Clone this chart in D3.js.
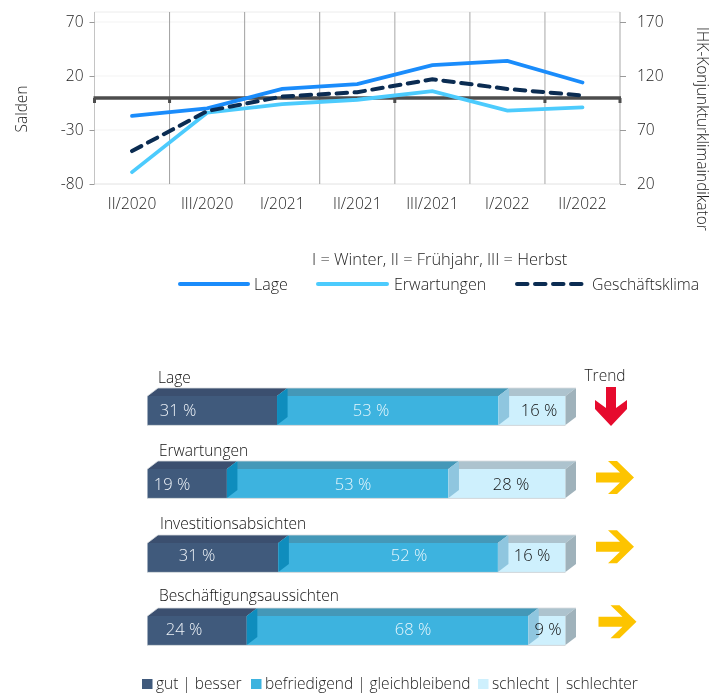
<!DOCTYPE html>
<html><head><meta charset="utf-8">
<script src="https://cdn.jsdelivr.net/npm/d3@7/dist/d3.min.js"></script>
<style>html,body{margin:0;padding:0;background:#fff}svg{display:block;filter:blur(0.35px)}text{font-family:"Open Sans",sans-serif;font-weight:300}</style>
</head><body><svg id="c" width="723" height="693"></svg>
<script>
// ---- data ----
const periods = ["II/2020","III/2020","I/2021","II/2021","III/2021","I/2022","II/2022"];
const lage = [-17,-10,8,12.5,30,34,14];
const erwartungen = [-69,-14,-6,-2,6,-12,-9];
const klima = [50.5,87.5,101,105,117,108,102];
const leftTicks = [-80,-30,20,70];
const rightTicks = [20,70,120,170];
const barNames = ["Lage","Erwartungen","Investitionsabsichten","Beschäftigungsaussichten"];
const gut = [31,19,31,24];
const befriedigend = [53,53,52,68];
const schlecht = [16,28,16,9];
const trend = ["down","right","right","right"];
const legendTop = ["Lage","Erwartungen","Geschäftsklima"];
const legendBottom = ["gut | besser","befriedigend | gleichbleibend","schlecht | schlechter"];

// ---- layout ----
const svg = d3.select("#c");
const ink="#1c1c1c";
const ff='"Open Sans",sans-serif';
const L=94.5,R=620,B=184,T=12,T70=22;
const x = d3.scaleBand().domain(periods).range([L,R]);
const y = d3.scaleLinear().domain([-80,70]).range([B,T70]);
const yR = d3.scaleLinear().domain([20,170]).range([B,T70]);
const fs=15.5;

// gridlines
const g = svg.append("g");
leftTicks.forEach(t=>g.append("line").attr("x1",L).attr("x2",R).attr("y1",y(t)).attr("y2",y(t)).attr("stroke",t===-80?"#e2e2e2":"#f3f3f3").attr("stroke-width",1));
g.append("line").attr("x1",L).attr("x2",R).attr("y1",T).attr("y2",T).attr("stroke","#ececec");
const edges = periods.map(p=>x(p)).concat([R]);
edges.forEach((e,i)=>g.append("line").attr("x1",e).attr("x2",e).attr("y1",T).attr("y2",B)
  .attr("stroke",i===0?"#c4c4c4":(i<4?"#a0a0a0":"#c0c0c0")).attr("stroke-width",i<4?1:1.4));

// axes
const axL = svg.append("g").attr("transform",`translate(${L},0)`).call(d3.axisLeft(y).tickValues(leftTicks).tickSize(5).tickPadding(6).tickFormat(d=>d<0?"-"+Math.abs(d):d));
const axR = svg.append("g").attr("transform",`translate(${R},0)`).call(d3.axisRight(yR).tickValues(rightTicks).tickSize(6).tickPadding(11));
[axL,axR].forEach(a=>{a.select(".domain").remove();a.selectAll("line").attr("stroke","#9a9a9a");
  a.selectAll("text").attr("fill",ink).style("font-size","15.5px").style("font-family",ff).style("font-weight",300);});
const axB = svg.append("g").attr("transform",`translate(0,${B})`).call(d3.axisBottom(x).tickSize(0).tickPadding(14));
axB.select(".domain").remove();
axB.selectAll("text").attr("fill",ink).style("font-size",fs+"px").style("font-family",ff).style("font-weight",300);

// zero line
const y0=y(0)+0.4;
[0,1,4,6,7].forEach(i=>svg.append("rect").attr("x",edges[i]-1.5).attr("y",y0).attr("width",3).attr("height",5).attr("fill","#4d4d4d"));
svg.append("line").attr("x1",L-1).attr("x2",R+1).attr("y1",y0).attr("y2",y0).attr("stroke","#4d4d4d").attr("stroke-width",3.6);

// lines
const cx = p=>x(p)+x.bandwidth()/2;
const path = (vals,sc)=>d3.line().x((d,i)=>cx(periods[i])).y(d=>sc(d))(vals);
const col={lage:"#1a8cfb",erw:"#4ccbfd",kl:"#0b2c52"};
svg.append("path").attr("d",path(lage,y)).attr("fill","none").attr("stroke",col.lage).attr("stroke-width",3.8).attr("stroke-linecap","round");
svg.append("path").attr("d",path(erwartungen,y)).attr("fill","none").attr("stroke",col.erw).attr("stroke-width",3.8).attr("stroke-linecap","round");
svg.append("path").attr("d",path(klima,yR)).attr("fill","none").attr("stroke",col.kl).attr("stroke-width",4).attr("stroke-linecap","round").attr("stroke-dasharray","10.5 7.5");

const txt=(s,xx,yy,size,fill,anchor)=>svg.append("text").attr("x",xx).attr("y",yy).attr("font-size",size).attr("fill",fill||ink).attr("text-anchor",anchor||"start").text(s);
txt("Salden",0,0,fs).attr("transform","translate(27,109) rotate(-90)").attr("text-anchor","middle");
txt("IHK-Konjunkturklimaindikator",0,0,fs).attr("transform","translate(697,129) rotate(90)").attr("text-anchor","middle");
txt("I = Winter, II = Frühjahr, III = Herbst",312,264.5,16.4);

// top legend
const lgX=[[180,248,254],[318,387,394],[517,586,592]];
const lgSt=[[col.lage,null],[col.erw,null],[col.kl,"10.5 7.5"]];
legendTop.forEach((s,i)=>{
  svg.append("line").attr("x1",lgX[i][0]).attr("x2",lgX[i][1]).attr("y1",284).attr("y2",284).attr("stroke",lgSt[i][0]).attr("stroke-width",4).attr("stroke-linecap","round").attr("stroke-dasharray",lgSt[i][1]);
  txt(s,lgX[i][2],289.5,i===2?15.8:16);
});

// stacked 3D bars
const frontTop=[396,469,543,616], frontH=29, dx=10.5, dy=8;
const nameX=[158,159,160,159], nameY=[383,456,529,601];
const pctX=[[178,371,539],[172,353,511],[197,409,532],[184,413,548]];
const pctY=[416,490,561,635];
const colors=[{f:"#405a7c",t:"#3b4f6f",s:"#0f8dbd",lbl:"#eef3f8"},{f:"#3db3df",t:"#4498b8",s:"#8fc6df",lbl:"#e6f6fc"},{f:"#cef0fd",t:"#adc3ce",s:"#9fb2bb",lbl:"#111"}];
barNames.forEach((name,i)=>{
  const vals=[gut[i],befriedigend[i],schlecht[i]];
  const sx=d3.scaleLinear().domain([0,d3.sum(vals)]).range([147.5,565.5]);
  const ty=frontTop[i], by=ty+frontH;
  const gb=svg.append("g");
  const segs=[]; let acc=0;
  vals.forEach((v,k)=>{segs.push([sx(acc),sx(acc+v),colors[k]]);acc+=v;});
  segs.forEach(([a,b,c])=>{
    gb.append("polygon").attr("points",[[a,ty],[a+dx,ty-dy],[b+dx,ty-dy],[b,ty]].join(" ")).attr("fill",c.t);
    gb.append("rect").attr("x",a).attr("y",ty).attr("width",b-a).attr("height",frontH).attr("fill",c.f);
  });
  segs.forEach(([a,b,c])=>{
    gb.append("polygon").attr("points",[[b,ty],[b+dx,ty-dy],[b+dx,by-dy],[b,by]].join(" ")).attr("fill",c.s);
  });
  gb.append("polyline").attr("points",[[147.5,ty],[147.5+dx,ty-dy],[565.5+dx,ty-dy]].join(" ")).attr("fill","none").attr("stroke","#d8dcdf").attr("stroke-width",0.8);
  gb.append("line").attr("x1",147).attr("x2",565.5).attr("y1",by+.4).attr("y2",by+.4).attr("stroke","#cfd6da").attr("stroke-width",1);
  txt(name,nameX[i],nameY[i],fs,"#111");
  vals.forEach((v,k)=>txt(v+" %",pctX[i][k],pctY[i],16.5,colors[k].lbl,"middle"));
});

// trend
txt("Trend",605,381,fs,ink,"middle");
const arrowAt=[[611,0],[596,477.5],[596,546.7],[598.5,621.7]];
const downArrow=(ax)=>`M${ax-5} 387 H${ax+5} V408 L${ax+16} 400 V409 L${ax} 426 L${ax-16} 409 V400 L${ax-5} 408 Z`;
const rightArrow=(ax,cy)=>`M${ax} ${cy-5} H${ax+24} L${ax+12} ${cy-16.5} H${ax+21} L${ax+38} ${cy} L${ax+21} ${cy+16.5} H${ax+12} L${ax+24} ${cy+5} H${ax} Z`;
trend.forEach((t,i)=>{
  svg.append("path").attr("d",t==="down"?downArrow(arrowAt[i][0]):rightArrow(arrowAt[i][0],arrowAt[i][1]))
    .attr("fill",t==="down"?"#e60b2e":"#fdc400");
});

// bottom legend
const blX=[[142,156],[251,265],[478,492]];
legendBottom.forEach((s,i)=>{
  svg.append("rect").attr("x",blX[i][0]).attr("y",679).attr("width",10.5).attr("height",10).attr("fill",colors[i].f);
  txt(s,blX[i][1],689,fs,ink);
});
</script></body></html>
